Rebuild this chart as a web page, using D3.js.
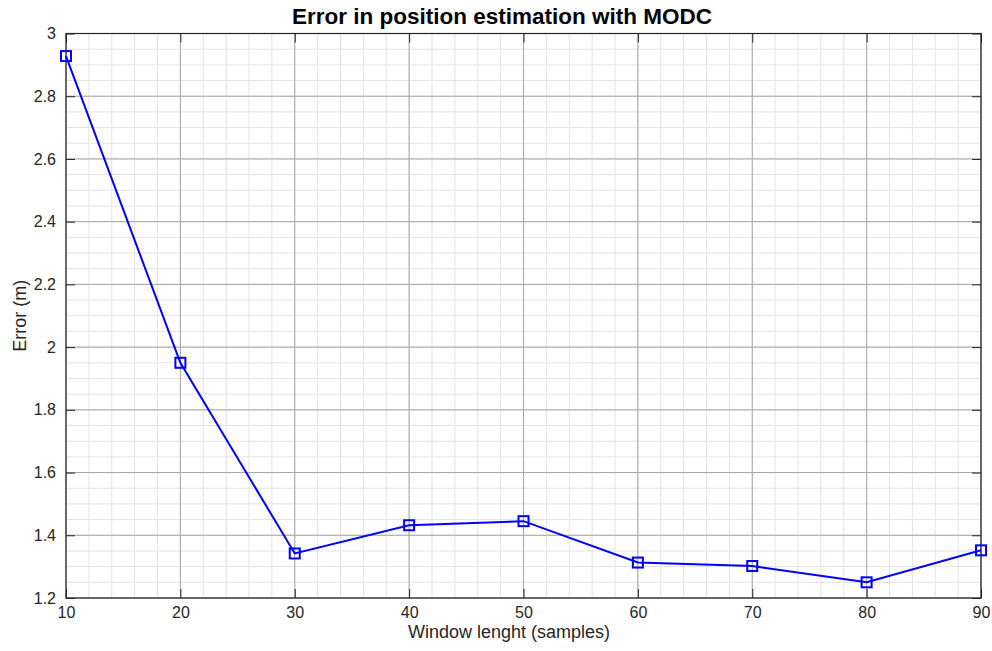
<!DOCTYPE html>
<html>
<head>
<meta charset="utf-8">
<script src="https://cdn.jsdelivr.net/npm/d3@7"></script>
<style>
  html, body { margin: 0; padding: 0; background: #fff; }
  svg { display: block; font-family: "Liberation Sans", Arial, Helvetica, sans-serif; }
</style>
</head>
<body>
<svg id="chart" width="992" height="651"></svg>
<script>
// Window length (samples) and the resulting position error (m)
const windowLengths = [10, 20, 30, 40, 50, 60, 70, 80, 90];
const errors = [2.928, 1.950, 1.342, 1.432, 1.445, 1.313, 1.302, 1.250, 1.352];

const xTicks = [10, 20, 30, 40, 50, 60, 70, 80, 90];
const yTicks = [1.2, 1.4, 1.6, 1.8, 2, 2.2, 2.4, 2.6, 2.8, 3];
const xMinorTicks = d3.range(10, 90.001, 2);
const yMinorTicks = d3.range(1.2, 3.0001, 0.05);

const titleText = "Error in position estimation with MODC";
const xLabelText = "Window lenght (samples)";
const yLabelText = "Error (m)";

const svg = d3.select("#chart");
const margin = { left: 66, right: 11, top: 33.5, bottom: 53 };
const W = 992, H = 651;
const x0 = margin.left, x1 = W - margin.right;
const y0 = H - margin.bottom, y1 = margin.top;

const x = d3.scaleLinear().domain([10, 90]).range([x0, x1]);
const y = d3.scaleLinear().domain([1.2, 3]).range([y0, y1]);

const grid = svg.append("g");

// minor grid
grid.selectAll(".xminor").data(xMinorTicks).enter().append("line")
  .attr("x1", d => x(d)).attr("x2", d => x(d))
  .attr("y1", y0).attr("y2", y1)
  .attr("stroke", "#e3e3e3").attr("stroke-width", 1);
grid.selectAll(".yminor").data(yMinorTicks).enter().append("line")
  .attr("y1", d => y(d)).attr("y2", d => y(d))
  .attr("x1", x0).attr("x2", x1)
  .attr("stroke", "#e3e3e3").attr("stroke-width", 1);

// major grid
grid.selectAll(".xmajor").data(xTicks).enter().append("line")
  .attr("x1", d => x(d)).attr("x2", d => x(d))
  .attr("y1", y0).attr("y2", y1)
  .attr("stroke", "#a6a6a6").attr("stroke-width", 1);
grid.selectAll(".ymajor").data(yTicks).enter().append("line")
  .attr("y1", d => y(d)).attr("y2", d => y(d))
  .attr("x1", x0).attr("x2", x1)
  .attr("stroke", "#a6a6a6").attr("stroke-width", 1);

// axes: ticks point inward, on all four sides
const axisColor = "#262626";
const tickLen = 9;
const styleAxis = g => {
  g.select(".domain").remove();
  g.selectAll(".tick line").attr("stroke", axisColor);
  g.selectAll(".tick text").attr("fill", axisColor).attr("font-size", "16px")
    .attr("font-family", "Liberation Sans, Arial, sans-serif");
};

svg.append("g").attr("transform", `translate(0,${y0})`)
  .call(d3.axisBottom(x).tickValues(xTicks).tickSize(-tickLen).tickPadding(9).tickFormat(d3.format("d")))
  .call(styleAxis);
svg.append("g").attr("transform", `translate(0,${y1})`)
  .call(d3.axisTop(x).tickValues(xTicks).tickSize(-tickLen).tickFormat(""))
  .call(styleAxis);
svg.append("g").attr("transform", `translate(${x0},0)`)
  .call(d3.axisLeft(y).tickValues(yTicks).tickSize(-tickLen).tickPadding(10).tickFormat(d => d3.format("")(+d.toFixed(1))))
  .call(styleAxis);
svg.append("g").attr("transform", `translate(${x1},0)`)
  .call(d3.axisRight(y).tickValues(yTicks).tickSize(-tickLen).tickFormat(""))
  .call(styleAxis);

// axes box
svg.append("rect")
  .attr("x", x0).attr("y", y1)
  .attr("width", x1 - x0).attr("height", y0 - y1)
  .attr("fill", "none").attr("stroke", axisColor).attr("stroke-width", 1.2);

// data line
const line = d3.line().x((d, i) => x(windowLengths[i])).y(d => y(d));
svg.append("path").datum(errors)
  .attr("d", line)
  .attr("fill", "none").attr("stroke", "#0000ff").attr("stroke-width", 2);

// square markers
const ms = 10;
svg.selectAll(".marker").data(errors).enter().append("rect")
  .attr("x", (d, i) => x(windowLengths[i]) - ms / 2)
  .attr("y", d => y(d) - ms / 2)
  .attr("width", ms).attr("height", ms)
  .attr("fill", "none").attr("stroke", "#0000ff").attr("stroke-width", 2);

// title and axis labels
svg.append("text")
  .attr("x", 502).attr("y", 24)
  .attr("text-anchor", "middle")
  .attr("font-size", "22.5px").attr("font-weight", "bold").attr("fill", "#000")
  .text(titleText);

svg.append("text")
  .attr("x", 509).attr("y", 638)
  .attr("text-anchor", "middle")
  .attr("font-size", "18px").attr("fill", axisColor)
  .text(xLabelText);

svg.append("text")
  .attr("transform", `translate(26,${(y0 + y1) / 2}) rotate(-90)`)
  .attr("text-anchor", "middle")
  .attr("font-size", "18px").attr("fill", axisColor)
  .text(yLabelText);
</script>
</body>
</html>
